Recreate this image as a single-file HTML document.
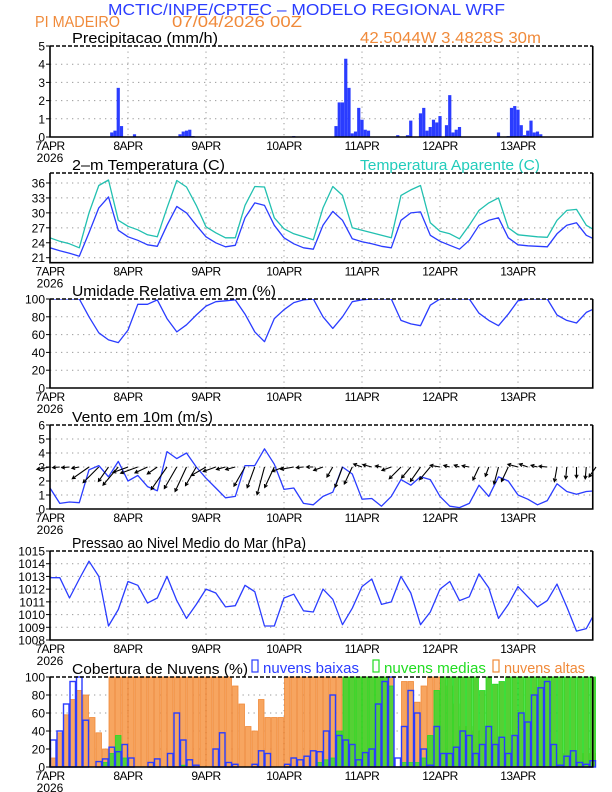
<!DOCTYPE html>
<html><head><meta charset="utf-8">
<style>
html,body{margin:0;padding:0;background:#fff;}
svg{display:block;font-family:"Liberation Sans",sans-serif;}
</style></head>
<body>
<svg id="chart" width="612" height="792" viewBox="0 0 612 792" xmlns="http://www.w3.org/2000/svg">
<text x="108" y="15" textLength="397" lengthAdjust="spacingAndGlyphs" font-size="16" fill="#2a3cff">MCTIC/INPE/CPTEC – MODELO REGIONAL WRF</text>
<text x="35" y="27" textLength="85" lengthAdjust="spacingAndGlyphs" font-size="16" fill="#f08a3a">PI MADEIRO</text>
<text x="172" y="27" textLength="130" lengthAdjust="spacingAndGlyphs" font-size="16" fill="#f08a3a">07/04/2026 00Z</text>
<text x="360" y="43" textLength="181" lengthAdjust="spacingAndGlyphs" font-size="16" fill="#f08a3a">42.5044W 3.4828S 30m</text>
<text x="360" y="170" textLength="180" lengthAdjust="spacingAndGlyphs" font-size="15" fill="#22ccbb">Temperatura Aparente (C)</text>
<g id="layer"></g>
</svg>
<script>
// ---- data ----
const dayLabels = ["7APR","8APR","9APR","10APR","11APR","12APR","13APR"];
const precipHours = [19,20,21,22,26,40,41,42,43,44,75,88,89,90,91,92,93,94,95,96,97,98,107,110,111,114,115,116,117,118,119,120,122,123,124,125,126,138,141,142,143,144,145,146,147,148,149,150,151];
const precipValues = [0.25,0.35,2.7,0.6,0.15,0.15,0.3,0.35,0.4,0.05,0.05,0.6,1.9,1.9,4.3,2.7,0.2,0.3,1.6,0.95,0.4,0.35,0.1,0.1,0.9,1.3,1.6,0.35,0.55,0.95,0.8,1.15,0.65,2.3,0.25,0.4,0.55,0.25,0.05,1.6,1.7,1.5,0.65,0.1,0.35,0.9,0.25,0.3,0.15];
const temp = [23.0,22.4,21.9,21.3,26,31,33.2,26.5,25.2,24.5,23.6,23.3,27.5,31.3,30.0,27.5,25.2,24.0,23.2,23.5,29,32.0,31.5,27.5,25.0,23.8,23.0,22.7,27.5,30.3,28.5,24.8,24.2,23.8,23.3,23.0,28.5,30.0,30.2,25.5,24.3,23.5,22.7,24.5,27.5,28.5,29.0,25.0,23.6,23.4,23.3,23.2,25.8,27.5,28.0,25.5,24.6];
const appTemp = [25.0,24.3,23.8,23.0,30,35.5,36.6,28.5,27.3,26.6,25.6,25.2,31,36.5,35.2,31.5,27.2,26.0,25.0,25.0,31.5,35.3,35.2,29,26.8,25.8,25.2,24.6,31,35.3,33.5,27.0,26.5,26.0,25.5,25.0,33.5,34.6,35.5,28.0,26.3,25.8,24.8,27.5,30.5,32.0,33.0,27.0,25.6,25.4,25.2,25.1,28.5,30.5,30.7,27.5,26.4];
const rh = [100,100,100,100,80,62,54,51,65,94,94,99,78,63,71,82,92,97,98,99,83,63,52,78,88,96,99,100,80,67,80,97,99,100,100,100,76,72,70,93,100,100,100,100,84,76,70,83,98,100,100,100,82,76,73,85,90];
const windSpeed = [1.5,0.4,0.5,0.45,2.8,3.1,2.3,3.4,2.0,2.4,1.6,1.3,4.1,3.6,4.0,3.0,2.2,1.5,0.8,0.9,3.1,3.1,4.3,3.2,1.4,1.5,0.4,0.3,0.9,1.2,3.0,2.5,0.7,0.75,0.2,0.9,2.1,1.7,2.3,2.1,0.9,0.2,0.1,0.4,1.7,0.9,2.3,2.0,1.0,0.7,0.3,0.6,1.8,1.25,1.05,1.25,1.3];
const windDir = [190,185,185,190,215,225,235,230,200,200,205,215,235,240,245,240,210,200,195,195,240,250,255,245,200,190,185,180,200,240,250,245,160,165,170,200,225,230,235,230,170,165,160,170,245,250,255,245,165,160,165,175,260,265,270,265,235];
const pressure = [1012.9,1012.9,1011.3,1012.8,1014.2,1013.0,1009.1,1010.4,1012.6,1012.3,1010.9,1011.3,1013.0,1011.1,1009.7,1010.8,1012.0,1011.7,1010.6,1010.7,1012.3,1011.8,1009.1,1009.1,1011.3,1011.6,1010.3,1010.2,1012.0,1011.2,1009.2,1010.5,1012.2,1012.8,1010.8,1011.0,1013.0,1011.7,1009.2,1010.2,1012.0,1012.6,1011.1,1011.4,1013.2,1012.1,1009.7,1010.8,1012.2,1011.4,1010.6,1011.1,1012.4,1010.6,1008.7,1008.9,1010.3];
const cloudLow = [30,40,70,95,100,52,0,6,9,22,17,25,10,0,0,5,9,0,15,60,30,8,2,0,0,20,38,5,3,0,0,3,18,15,0,0,3,10,8,12,18,17,40,80,35,30,25,8,16,20,70,95,100,10,45,85,60,20,2,45,15,15,22,40,35,15,25,45,25,33,15,35,60,50,80,88,95,25,2,12,18,5,3,7];
const cloudMid = [0,0,0,0,0,0,0,0,5,15,35,10,0,0,0,0,0,0,0,0,2,0,0,0,0,0,0,0,0,0,0,0,0,0,0,0,0,0,0,0,0,5,8,10,40,100,100,100,100,100,100,100,90,0,5,5,5,10,35,85,100,100,100,100,100,100,85,100,92,95,100,100,100,100,100,100,100,100,100,100,100,100,100,100];
const cloudHigh = [10,38,58,75,85,80,55,38,20,100,100,100,100,100,100,100,100,100,100,100,100,100,100,100,100,100,100,100,90,70,45,40,75,55,55,55,100,100,100,100,100,100,100,100,100,100,100,100,100,100,100,100,100,0,95,95,72,90,100,100,100,90,70,45,45,40,40,35,30,25,20,15,15,15,15,15,15,15,15,15,15,15,15,15];

// ---- layout ----
const X0 = 50, PXH = 3.25;
const xs = h => X0 + h * PXH;
const NS = "http://www.w3.org/2000/svg";
const layer = document.getElementById('layer');
function mk(tag, attrs, parent) {
  const e = document.createElementNS(NS, tag);
  for (const k in attrs) e.setAttribute(k, attrs[k]);
  (parent || layer).appendChild(e);
  return e;
}
function yScale(p) { return v => p.bottom - (v - p.min) / (p.max - p.min) * (p.bottom - p.top); }

const panels = [
  {id:'precip', top:46, bottom:137, min:0, max:5, ticks:[0,1,2,3,4,5], title:'Precipitacao (mm/h)', tl:146},
  {id:'temp', top:173, bottom:262.7, min:20, max:38, ticks:[21,24,27,30,33,36], title:'2–m Temperatura (C)', tl:153},
  {id:'rh', top:299, bottom:388, min:0, max:100, ticks:[0,20,40,60,80,100], title:'Umidade Relativa em 2m (%)', tl:204},
  {id:'wind', top:425, bottom:509, min:0, max:6, ticks:[0,1,2,3,4,5,6], title:'Vento em 10m (m/s)', tl:141},
  {id:'pressure', top:551, bottom:640, min:1008, max:1015, ticks:[1008,1009,1010,1011,1012,1013,1014,1015], title:'Pressao ao Nivel Medio do Mar (hPa)', tl:234},
  {id:'cloud', top:677, bottom:767, min:0, max:100, ticks:[0,20,40,60,80,100], title:'Cobertura de Nuvens (%)', tl:176}
];
const XR = xs(167);

panels.forEach(p => {
  const y = yScale(p);
  p.y = y;
  const g = mk('g', {});
  
  
  p.g = g;
  const t = mk('text', {x:72, y:p.top - 3, 'font-size':15, fill:'#000', textLength:p.tl, lengthAdjust:'spacingAndGlyphs'}, g);
  t.textContent = p.title;
  
  
  p.ticks.forEach(v => {
    if (v !== p.min && v !== p.max) {
      const gl = mk('line', {x1:X0, x2:XR, y1:y(v), y2:y(v), stroke:'#999', 'stroke-width':1, 'stroke-dasharray':'1.3,4.2'}, g);
      
      
    }
    const tl = mk('text', {x:45, y:y(v) + 4.5, 'font-size':12, 'text-anchor':'end', fill:'#000'}, g);
    tl.textContent = v;
    
    
    const tk = mk('line', {x1:X0 - 4, x2:X0, y1:y(v), y2:y(v), stroke:'#000', 'stroke-width':1}, g);
    
    
  });
  dayLabels.forEach((d, i) => {
    const xx = xs(i * 24);
    if (i > 0) {
      const vl = mk('line', {x1:xx, x2:xx, y1:p.top, y2:p.bottom, stroke:'#999', 'stroke-width':1, 'stroke-dasharray':'1.3,4.2'}, g);
      
      
    }
    const dl = mk('text', {x:xx, y:p.bottom + 13, 'font-size':12, 'text-anchor':'middle', fill:'#000', 'letter-spacing':'-0.5'}, g);
    dl.textContent = d;
    
    
  });
  const yl = mk('text', {x:X0, y:p.bottom + 25, 'font-size':12, 'text-anchor':'middle', fill:'#000'}, g);
  yl.textContent = '2026';
  
  
  p.clip = 'clip-' + p.id;
  const cp = mk('clipPath', {id:p.clip}, g);
  mk('rect', {x:X0, y:p.top, width:XR - X0, height:p.bottom - p.top}, cp);
});

function frame(p) {
  const g = p.g;
  const f = mk('path', {d:`M${X0},${p.top} L${X0},${p.bottom} L${XR},${p.bottom} L${XR},${p.top}`, fill:'none', stroke:'#000', 'stroke-width':1.6}, g);
  
  
  const tp = mk('line', {x1:X0, x2:XR, y1:p.top, y2:p.top, stroke:'#000', 'stroke-width':1.6, 'stroke-dasharray':'4,2'}, g);
  
  
}
function line(p, arr, step, color, name) {
  const d = arr.map((v, i) => (i ? 'L' : 'M') + xs(i * step).toFixed(1) + ',' + p.y(v).toFixed(1)).join(' ');
  const pl = mk('path', {d:d, fill:'none', stroke:color, 'stroke-width':1.3, 'stroke-linejoin':'round', 'clip-path':`url(#${p.clip})`}, p.g);
  
  
}

// precip
const P1 = panels[0];
precipHours.forEach((h, i) => {
  const b = mk('rect', {x:xs(h) - 1.6, y:P1.y(precipValues[i]), width:3.2, height:P1.y(0) - P1.y(precipValues[i]), fill:'#2a3cff'}, P1.g);
  
  
});
frame(P1);

const P2 = panels[1];
line(P2, appTemp, 3, '#22c0b0', 'apparent-temp-line');
line(P2, temp, 3, '#2a3cff', 'temp-line');
frame(P2);

const P3 = panels[2];
line(P3, rh, 3, '#2a3cff', 'rh-line');
frame(P3);

// wind
const P4 = panels[3];
line(P4, windSpeed, 3, '#2a3cff', 'wind-speed-line');
windSpeed.forEach((s, i) => {
  const a = windDir[i] * Math.PI / 180;
  const L = 5 + s * 5.5;
  const x1 = xs(i * 3), y1 = P4.y(3);
  const x2 = x1 + L * Math.cos(a), y2 = y1 - L * Math.sin(a);
  const hx1 = x2 - 3.5 * Math.cos(a - 0.5), hy1 = y2 + 3.5 * Math.sin(a - 0.5);
  const hx2 = x2 - 3.5 * Math.cos(a + 0.5), hy2 = y2 + 3.5 * Math.sin(a + 0.5);
  const ar = mk('path', {d:`M${x1},${y1} L${x2},${y2} M${hx1},${hy1} L${x2},${y2} L${hx2},${hy2}`, stroke:'#000', 'stroke-width':1.1, fill:'none'}, P4.g);
  
  
});
frame(P4);

const P5 = panels[4];
line(P5, pressure, 3, '#2a3cff', 'pressure-line');
frame(P5);

// clouds
const P6 = panels[5];
const bw = 2 * PXH;
function bars(arr, fill, stroke, sw, name) {
  arr.forEach((v, i) => {
    if (v <= 0) return;
    const r = mk('rect', {x:xs(i * 2) + 0.5, y:P6.y(v), width:bw - 1, height:P6.y(0) - P6.y(v), fill:fill, stroke:stroke, 'stroke-width':sw}, P6.g);
    
    
  });
}
bars(cloudHigh, '#f7a560', '#f08a3a', 0.8, 'high-cloud-bar');
bars(cloudMid, '#55d035', '#22dd22', 0.8, 'mid-cloud-bar');
bars(cloudLow, 'none', '#2a3cff', 1.4, 'low-cloud-bar');
frame(P6);

// legend
const legend = [
  {x:252, color:'#2a3cff', label:'nuvens baixas', w:96, name:'legend-low-clouds'},
  {x:373, color:'#22dd22', label:'nuvens medias', w:102, name:'legend-mid-clouds'},
  {x:493, color:'#f08a3a', label:'nuvens altas', w:81, name:'legend-high-clouds'}
];
legend.forEach(l => {
  const g = mk('g', {});
  
  
  mk('rect', {x:l.x, y:660, width:6, height:12, fill:'none', stroke:l.color, 'stroke-width':1.2}, g);
  const t = mk('text', {x:l.x + 11, y:673, 'font-size':15, fill:l.color, textLength:l.w, lengthAdjust:'spacingAndGlyphs'}, g);
  t.textContent = l.label;
});
</script>
</body></html>
